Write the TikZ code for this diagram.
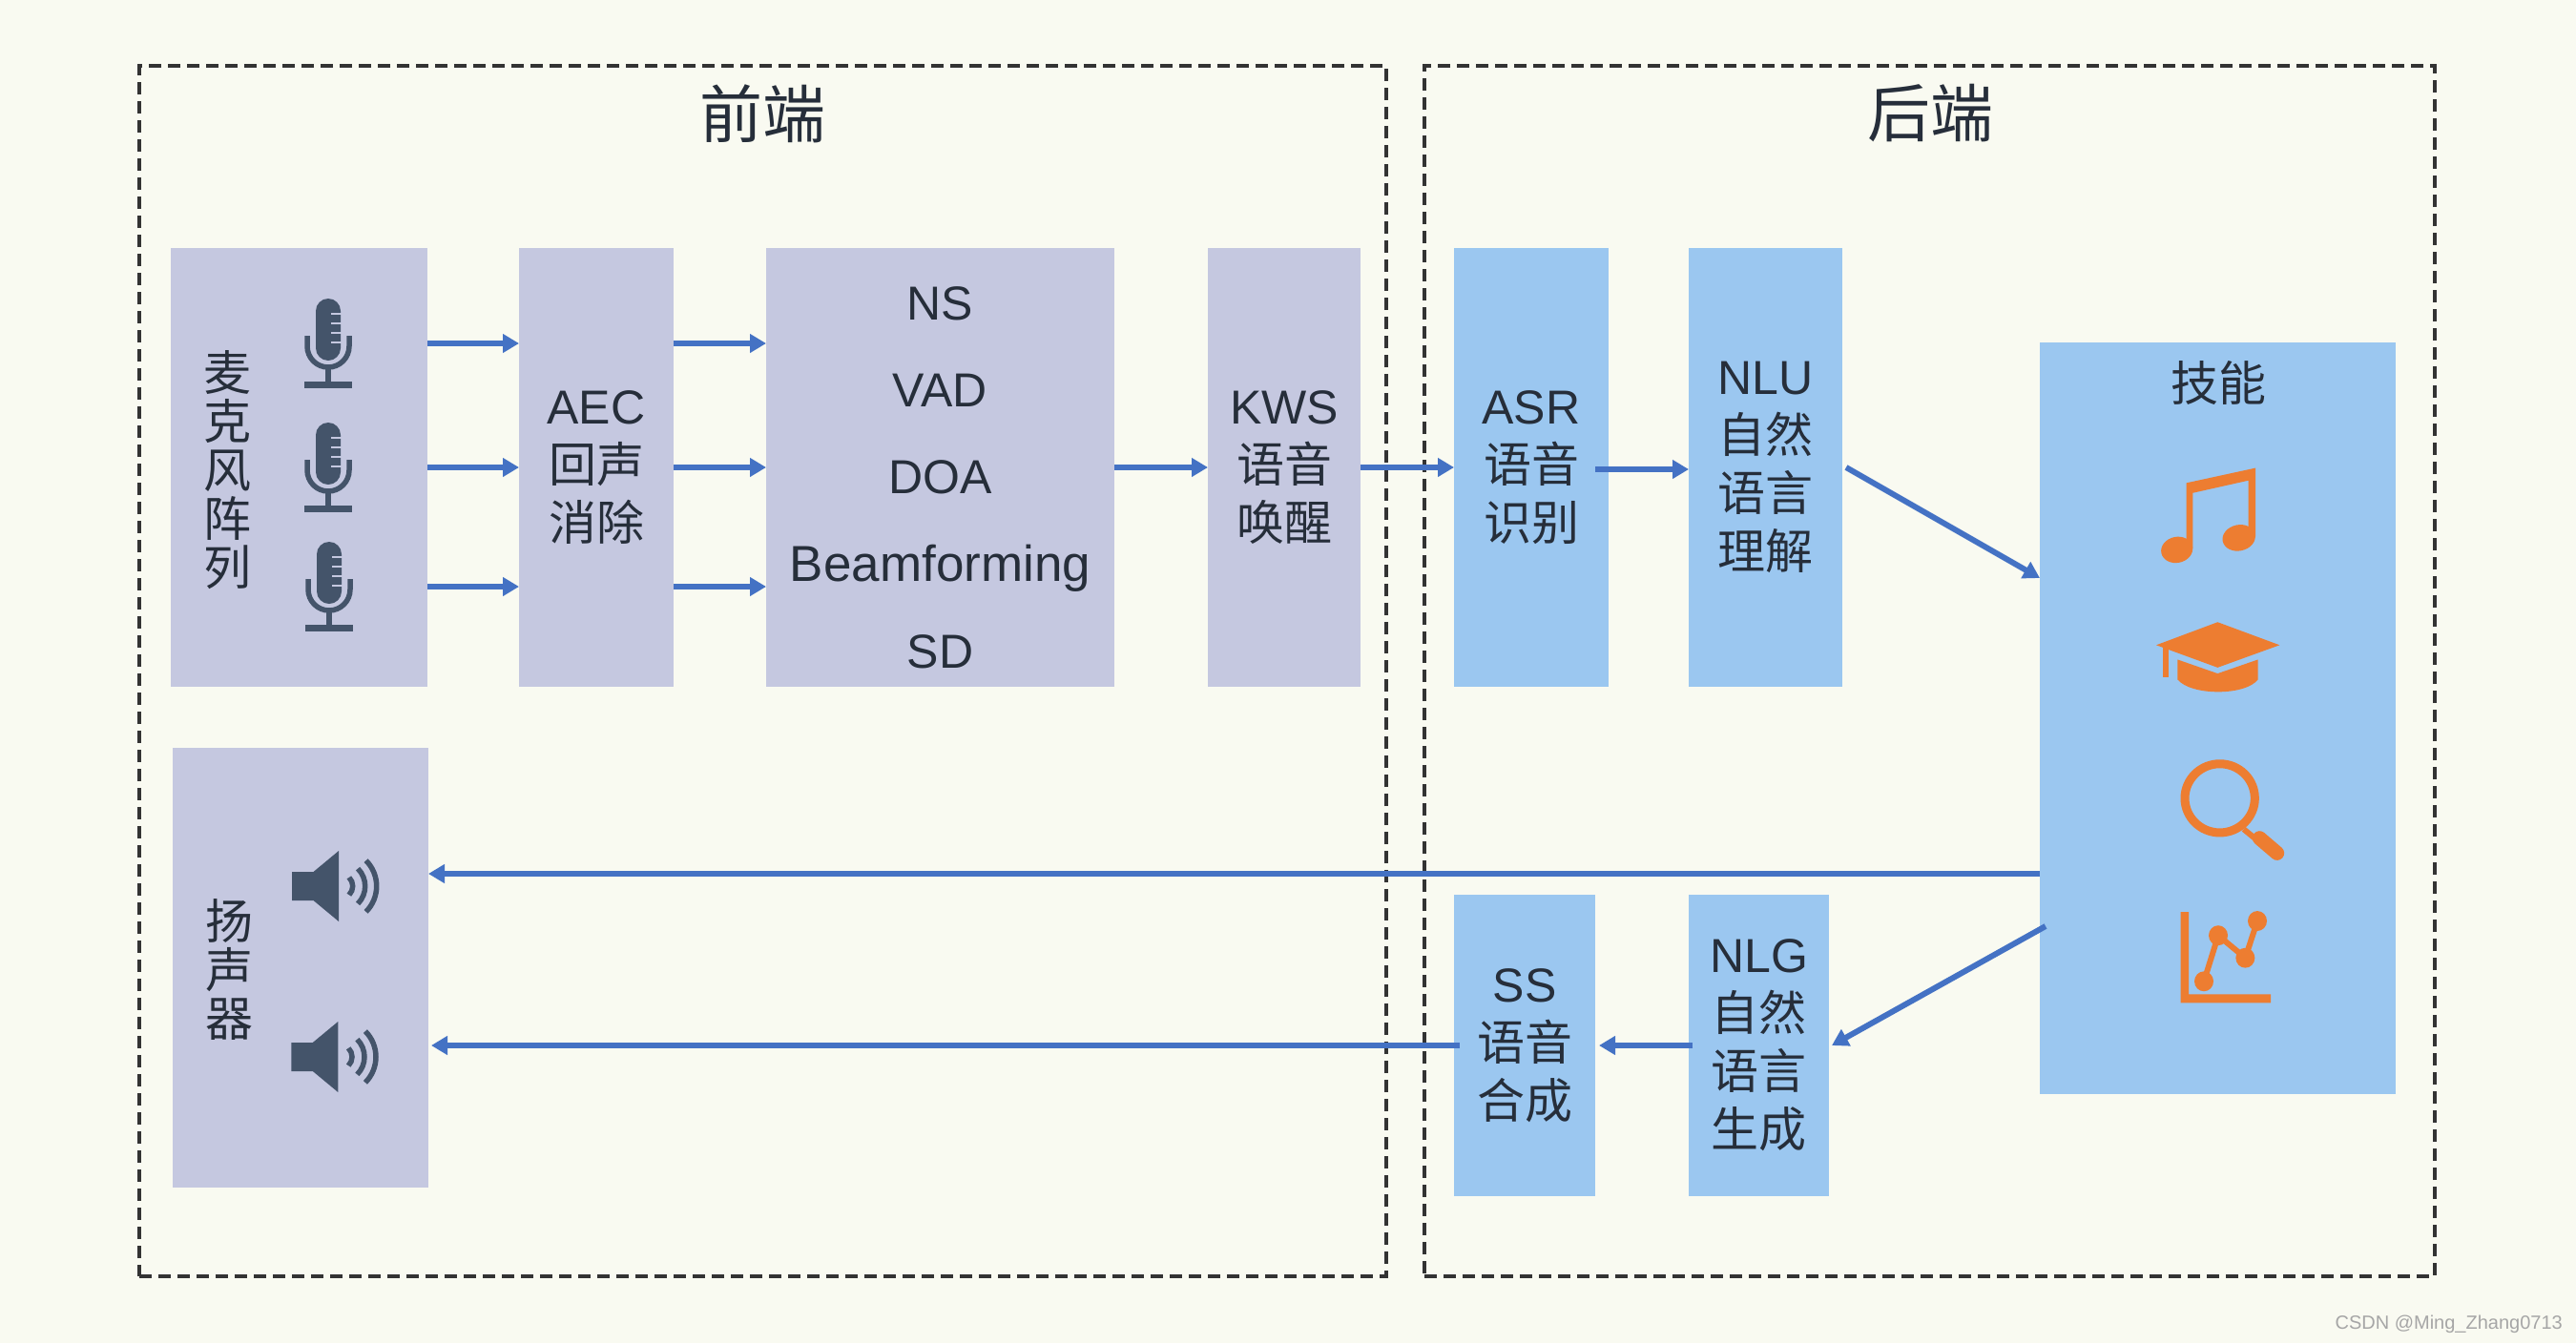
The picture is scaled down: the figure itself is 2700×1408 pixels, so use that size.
\documentclass[tikz,border=0pt]{standalone}
\usepackage{fontspec}
\usetikzlibrary{arrows.meta}
\setmainfont{Liberation Sans}
\newfontfamily\cjk{Noto Sans CJK SC}
\definecolor{bgc}{HTML}{F9FAF1}
\definecolor{lav}{HTML}{C5C8E0}
\definecolor{skyb}{HTML}{9BC7F0}
\definecolor{arrc}{HTML}{4472C4}
\definecolor{icon}{HTML}{44546A}
\definecolor{orng}{HTML}{ED7D31}
\definecolor{txt}{HTML}{262E3A}
\tikzset{
  block/.style={inner sep=0pt,outer sep=0pt,align=center,text=txt,font=\fontsize{50}{61}\selectfont},
  lavbox/.style={block,fill=lav},
  bluebox/.style={block,fill=skyb},
  frame/.style={draw=black!80,line width=3.5pt,dash pattern=on 13pt off 7pt,inner sep=0pt,outer sep=0pt},
  label/.style={inner sep=0pt,align=center,anchor=base,text=txt,font=\fontsize{50}{61}\selectfont},
  vlabel/.style={inner sep=0pt,align=center,text=txt,font=\fontsize{50}{51}\selectfont\cjk},
  title/.style={inner sep=0pt,text=txt,font=\fontsize{66}{70}\selectfont\cjk},
  flow/.style={draw=arrc,line width=6pt,-{Triangle[length=17pt,width=19pt]}},
  mic/.pic={
    \fill[icon] (-13,13) arc[start angle=180,end angle=360,radius=13] -- (13,52) arc[start angle=0,end angle=180,radius=13] -- cycle;
    \foreach \yy in {16,26,36,46} \draw[lav,line width=2.6pt] (3,\yy) -- (13.5,\yy);
    \draw[icon,line width=5.5pt] (-22,39) -- (-22,50) arc[start angle=180,end angle=0,radius=22] -- (22,39);
    \draw[icon,line width=5.5pt] (0,72) -- (0,90);
    \fill[icon] (-25,87) rectangle (25,93.5);
  },
  speaker/.pic={
    \fill[icon] (0,-15) -- (22.5,-15) -- (49,-37) -- (49,37) -- (22.5,15) -- (0,15) -- cycle;
    \foreach \rr in {13,26,38} \draw[icon,line width=5.5pt] ({50.7+\rr*cos(-45)},{\rr*sin(-45)}) arc[start angle=-45,end angle=45,radius=\rr];
  }
}
\begin{document}
\begin{tikzpicture}[x=1pt,y=-1pt]
\useasboundingbox (0,0) rectangle (2700,1408);
\fill[bgc] (0,0) rectangle (2700,1408);
% frames
\node[frame,minimum width=1307pt,minimum height=1269pt] (front) at (799.5,703.5) {};
\node[frame,minimum width=1059pt,minimum height=1269pt] (back) at (2022.5,703.5) {};
\node[title] (ttlf) at (799,119) {前端};
\node[title] (ttlb) at (2023,119) {后端};
% boxes
\node[lavbox,minimum width=269pt,minimum height=460pt] (micb) at (313.5,490) {};
\node[lavbox,minimum width=162pt,minimum height=460pt] (aec) at (625,490) {AEC\\{\cjk 回声}\\{\cjk 消除}};
\node[lavbox,minimum width=365pt,minimum height=460pt] (ns) at (985.5,490) {};
\node[lavbox,minimum width=160pt,minimum height=460pt] (kws) at (1346,490) {KWS\\{\cjk 语音}\\{\cjk 唤醒}};
\node[bluebox,minimum width=162pt,minimum height=460pt] (asr) at (1605,490) {ASR\\{\cjk 语音}\\{\cjk 识别}};
\node[bluebox,minimum width=161pt,minimum height=460pt] (nlu) at (1850.5,490) {NLU\\{\cjk 自然}\\{\cjk 语言}\\{\cjk 理解}};
\node[bluebox,minimum width=373pt,minimum height=788pt] (skill) at (2324.5,753) {};
\node[lavbox,minimum width=268pt,minimum height=461pt] (spk) at (315,1014.5) {};
\node[bluebox,minimum width=148pt,minimum height=316pt] (ss) at (1598,1096) {SS\\{\cjk 语音}\\{\cjk 合成}};
\node[bluebox,minimum width=147pt,minimum height=316pt] (nlg) at (1843.5,1096) {NLG\\{\cjk 自然}\\{\cjk 语言}\\{\cjk 生成}};
% labels
\node[vlabel] (micl) at (238,493) {麦\\克\\风\\阵\\列};
\node[vlabel] (spkl) at (240,1017) {扬\\声\\器};
\node[label] (l1) at (985.5,335) {NS};
\node[label] (l2) at (985.5,426) {VAD};
\node[label] (l3) at (985.5,517) {DOA};
\node[label,font=\fontsize{53}{61}\selectfont] (l4) at (985.5,609) {Beamforming};
\node[label] (l5) at (985.5,700) {SD};
\node[inner sep=0pt,text=txt,font=\fontsize{50}{61}\selectfont\cjk] (skl) at (2325,401) {技能};
% icons
\pic at (344,313) {mic};
\pic at (344,443) {mic};
\pic at (345,568) {mic};
\pic at (306,929) {speaker};
\pic at (305.3,1108) {speaker};
\begin{scope}[shift={(2120,340)},x=0.33333pt,y=-0.523pt]
  \fill[orng] (515,318) -- (732,288) -- (732,425) -- (710,425) -- (710,313) -- (535,338) -- (535,450) -- (515,450) -- cycle;
  \fill[orng,rotate around={12:(485,452)}] (485,452) ellipse [x radius=50,y radius=26];
  \fill[orng,rotate around={12:(680,428)}] (680,428) ellipse [x radius=52,y radius=26];
  \fill[orng] (420,643) -- (613,597) -- (808,643) -- (613,688) -- cycle;
  \fill[orng] (487,672) -- (613,700) -- (740,672) -- (740,712) .. controls (700,745) and (530,745) .. (487,712) -- cycle;
  \fill[orng] (441,648) rectangle (458,708);
  \draw[orng,line width=9pt] (620,950) ellipse [x radius=110,y radius=69];
  \draw[orng,line width=6pt] (695,1012) -- (745,1038);
  \draw[orng,line width=15pt,line cap=round] (745,1030) -- (800,1060);
  \fill[orng] (497,1178) -- (522,1178) -- (522,1343) -- (780,1343) -- (780,1360) -- (497,1360) -- cycle;
  \draw[orng,line width=6pt] (570,1317) -- (615,1225) -- (700,1270) -- (738,1196);
  \foreach \px/\py in {570/1317,615/1225,700/1270,738/1196}
    \fill[orng] (\px,\py) ellipse [x radius=30,y radius=20];
\end{scope}
% connector rows
\coordinate (r1) at (0,360);
\coordinate (r2) at (0,490);
\coordinate (r3) at (0,615);
\coordinate (r4) at (0,916);
\coordinate (r5) at (0,1096);
\coordinate (r6) at (0,492);
\draw[flow] (micb.east |- r1) -- (aec.west |- r1);
\draw[flow] (micb.east |- r2) -- (aec.west |- r2);
\draw[flow] (micb.east |- r3) -- (aec.west |- r3);
\draw[flow] (aec.east |- r1) -- (ns.west |- r1);
\draw[flow] (aec.east |- r2) -- (ns.west |- r2);
\draw[flow] (aec.east |- r3) -- (ns.west |- r3);
\draw[flow] (ns.east |- r2) -- (kws.west |- r2);
\draw[flow] (kws.east |- r2) -- (asr.west |- r2);
\coordinate (asrout) at ([xshift=-14pt]asr.east |- r6);
\draw[flow] (asrout) -- (nlu.west |- r6);
\coordinate (nluout) at ([xshift=4pt]nlu.east |- r2);
\coordinate (skin) at (skill.west |- 0,606);
\draw[flow] (nluout) -- (skin);
\draw[flow] (skill.west |- r4) -- (spk.east |- r4);
\coordinate (skout) at (2144,971);
\coordinate (nlgin) at ([xshift=3pt]nlg.east |- r5);
\draw[flow] (skout) -- (nlgin);
\coordinate (nlgout) at ([xshift=4pt]nlg.west |- r5);
\coordinate (ssin) at ([xshift=4pt]ss.east |- r5);
\draw[flow] (nlgout) -- (ssin);
\coordinate (ssout) at ([xshift=6pt]ss.west |- r5);
\coordinate (spkin) at ([xshift=3pt]spk.east |- r5);
\draw[flow] (ssout) -- (spkin);
% watermark
\node[inner sep=0pt,anchor=east,text=black!35,font=\fontsize{20}{24}\selectfont] (wm) at (2686,1388) {CSDN @Ming\_Zhang0713};
\end{tikzpicture}
\end{document}
